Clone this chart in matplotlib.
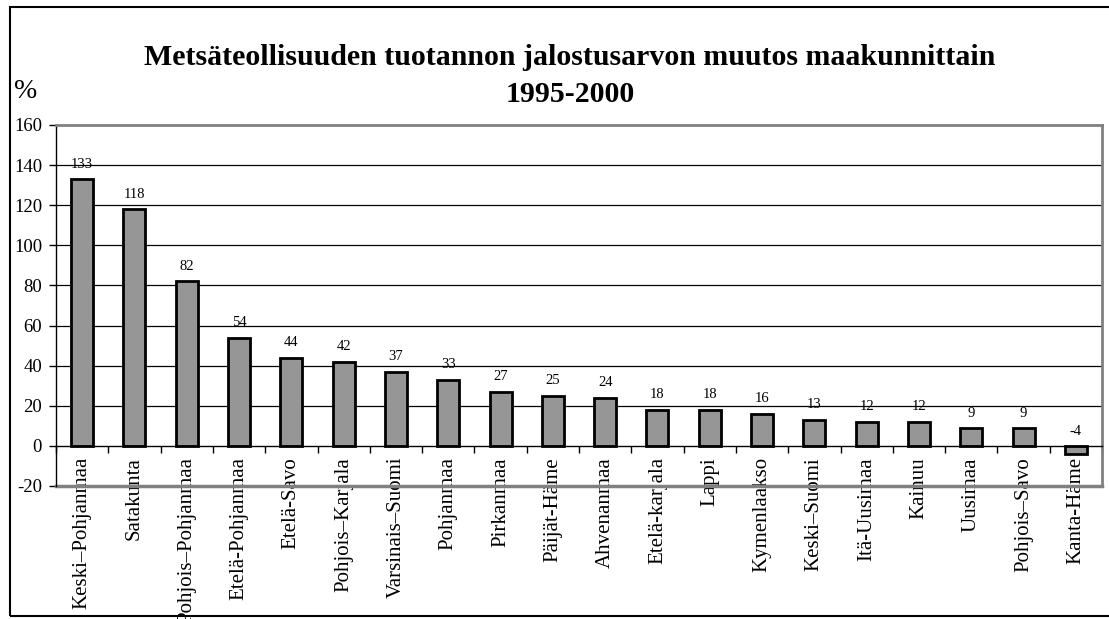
import matplotlib
matplotlib.use("Agg")
import matplotlib.pyplot as plt
from matplotlib.patches import Rectangle
import numpy as np

plt.rcParams['font.family'] = ['Liberation Serif', 'DejaVu Serif']

regions = ["Keski–Pohjanmaa", "Satakunta", "Pohjois–Pohjanmaa", "Etelä-Pohjanmaa",
           "Etelä-Savo", "Pohjois–Karjala", "Varsinais–Suomi", "Pohjanmaa",
           "Pirkanmaa", "Päijät-Häme", "Ahvenanmaa", "Etelä-karjala", "Lappi",
           "Kymenlaakso", "Keski–Suomi", "Itä-Uusimaa", "Kainuu", "Uusimaa",
           "Pohjois–Savo", "Kanta-Häme"]
values = [133, 118, 82, 54, 44, 42, 37, 33, 27, 25, 24, 18, 18, 16, 13, 12, 12, 9, 9, -4]
yticks = [-20, 0, 20, 40, 60, 80, 100, 120, 140, 160]
title = "Metsäteollisuuden tuotannon jalostusarvon muutos maakunnittain\n1995-2000"

W, H = 1109, 619
fig = plt.figure(figsize=(W / 100, H / 100), dpi=100)
ax = fig.add_axes([56 / W, 1 - 486 / H, (1102 - 56) / W, (486 - 125) / H])

x = np.arange(len(regions))
ax.bar(x, values, width=0.42, color="#969696", edgecolor="black", linewidth=2, zorder=3)

ax.set_xlim(-0.5, len(regions) - 0.5)
ax.set_ylim(-20, 160)

# gridlines
for yv in yticks[2:-1]:
    ax.axhline(yv, color="black", linewidth=0.9, zorder=1)

# frame
for s in ["top", "right"]:
    ax.spines[s].set_color("#808080")
    ax.spines[s].set_linewidth(2)
ax.spines["left"].set_color("black")
ax.spines["left"].set_linewidth(1)
ax.axhline(-20, color="#808080", linewidth=2.5, zorder=2, clip_on=False)
ax.spines["bottom"].set_position(("data", 0))
ax.spines["bottom"].set_color("black")
ax.spines["bottom"].set_linewidth(1)
ax.spines["bottom"].set_zorder(4)

ax.set_yticks(yticks)
ax.set_yticklabels([str(v) for v in yticks], fontsize=13.5)
ax.tick_params(axis="y", direction="out", length=5, width=1, pad=5)

ax.set_xticks(x)
ax.set_xticklabels(regions, rotation=90, fontsize=15, va="top", ha="center")
ax.tick_params(axis="x", which="major", length=0, pad=8)
ax.set_xticks(np.arange(len(regions) + 1) - 0.5, minor=True)
ax.tick_params(axis="x", which="minor", direction="out", length=5, width=1)

for xi, v in zip(x, values):
    ax.annotate(str(v), (xi, max(v, 0)), xytext=(0, 6), textcoords="offset points",
                ha="center", va="bottom", fontsize=10.5)

fig.text(570 / W, 1 - 76 / H, title, ha="center", va="center", fontsize=21.5,
         fontweight="bold", linespacing=1.45)
fig.text(14 / W, 1 - 92 / H, "%", ha="left", va="center", fontsize=20)

fig.patches.append(Rectangle((10 / W, 1 - 616 / H), 1.2, (616 - 7) / H,
                             transform=fig.transFigure, fill=False,
                             edgecolor="black", linewidth=1.5))

fig.savefig("out.png", dpi=100)
